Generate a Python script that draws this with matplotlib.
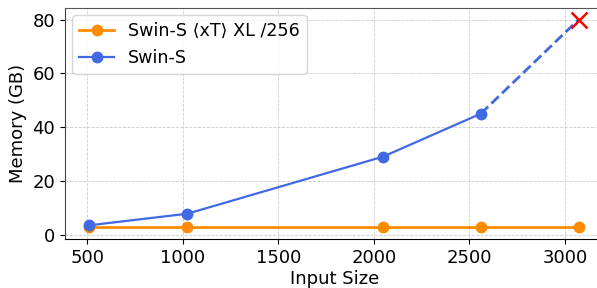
import matplotlib.pyplot as plt

input_sizes = [512, 1024, 2048, 2560, 3072]
xt_memory = [2.8, 2.8, 2.8, 2.8, 2.8]
swin_sizes = [512, 1024, 2048, 2560]
swin_memory = [3.5, 7.8, 29.0, 45.0]
oom_size = 3072
oom_memory = 80.0

plt.rcParams['font.size'] = 13

fig = plt.figure(figsize=(5.97, 2.88), dpi=100)
ax = fig.add_axes([65 / 597, 49 / 288, 540 / 597, 231 / 288])

ax.plot(input_sizes, xt_memory, '-o', color='darkorange', lw=2, ms=7.5,
        label='Swin-S ⟨xT⟩ XL /256')
ax.plot(swin_sizes, swin_memory, '-o', color='royalblue', lw=1.6, ms=7.5,
        label='Swin-S')
ax.plot([swin_sizes[-1], oom_size], [swin_memory[-1], oom_memory], '--',
        color='royalblue', lw=2)
ax.plot(oom_size, oom_memory, 'x', color='red', ms=12, mew=1.8)

ax.set_xlim(384, 3210)
ax.set_ylim(-1.6, 84.3)
ax.set_xticks([500, 1000, 1500, 2000, 2500, 3000])
ax.set_yticks([0, 20, 40, 60, 80])
ax.tick_params(labelsize=13)
ax.grid(True, ls='--', lw=0.6, color='#cccccc')
ax.set_xlabel('Input Size', labelpad=2)
ax.set_ylabel('Memory (GB)')
ax.spines['top'].set_color('#555555')
ax.spines['left'].set_color('#444444')
ax.legend(loc='upper left', fontsize=12.6, borderaxespad=0.4)

fig.savefig('out.png', dpi=100)
